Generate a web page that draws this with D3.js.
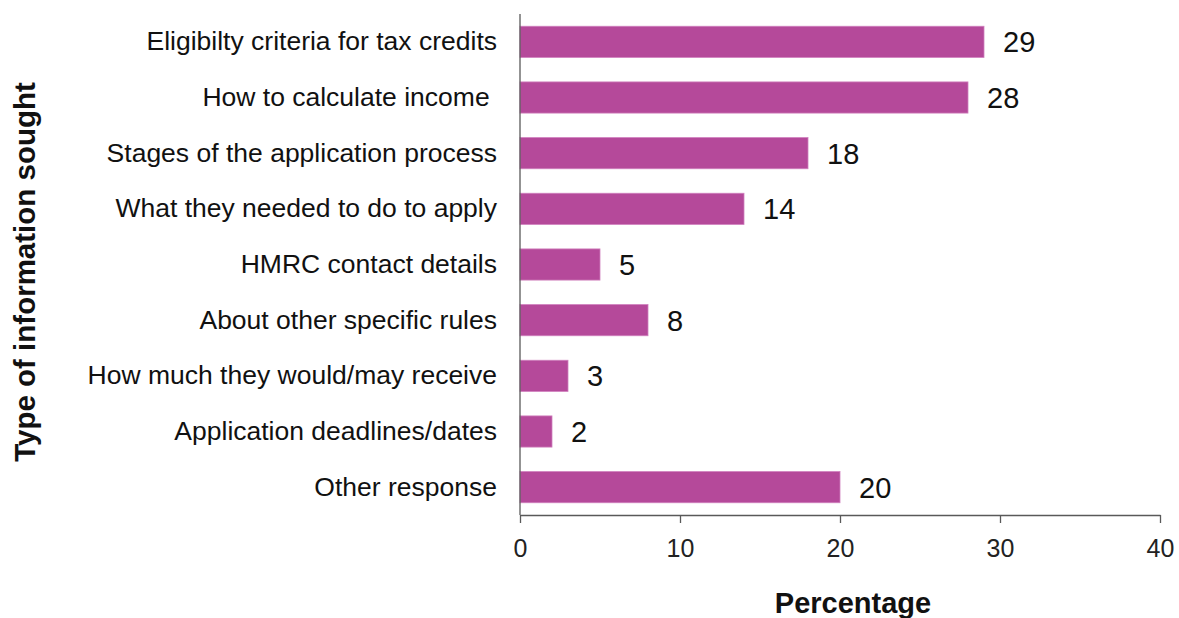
<!DOCTYPE html>
<html>
<head>
<meta charset="utf-8">
<script src="https://cdn.jsdelivr.net/npm/d3@7"></script>
<style>
  html, body { margin: 0; padding: 0; background: #fff; }
  svg { display: block; font-family: "Liberation Sans", Arial, sans-serif; }
</style>
</head>
<body>
<svg id="chart" width="1179" height="618"></svg>
<script>
// Survey responses: type of information sought
const categories = [
  "Eligibilty criteria for tax credits",
  "How to calculate income ",
  "Stages of the application process",
  "What they needed to do to apply",
  "HMRC contact details",
  "About other specific rules",
  "How much they would/may receive",
  "Application deadlines/dates",
  "Other response"
];
const percentages = [29, 28, 18, 14, 5, 8, 3, 2, 20];
const xTicks = [0, 10, 20, 30, 40];

const svg = d3.select("#chart");
const margin = { left: 520, right: 19, top: 14, bottom: 103 };
const width = 1179, height = 618;

const x = d3.scaleLinear().domain([0, 40]).range([margin.left, width - margin.right]);
const y = d3.scaleBand().domain(categories)
  .range([margin.top, height - margin.bottom])
  .paddingInner(0.44).paddingOuter(0.22);

const barColor = "#b5499a";
const axisColor = "#595959";
const font = "Liberation Sans, Arial, sans-serif";

// bars
svg.append("g").selectAll("rect")
  .data(categories)
  .join("rect")
  .attr("x", x(0))
  .attr("y", d => y(d))
  .attr("width", (d, i) => x(percentages[i]) - x(0))
  .attr("height", y.bandwidth())
  .attr("fill", barColor)
  .attr("stroke", "#d07fbd")
  .attr("stroke-width", 0.8);

// value labels
svg.append("g").selectAll("text")
  .data(categories)
  .join("text")
  .attr("x", (d, i) => x(percentages[i]) + 19)
  .attr("y", d => y(d) + y.bandwidth() / 2)
  .attr("dy", "0.36em")
  .attr("font-size", 29)
  .attr("fill", "#111")
  .text((d, i) => percentages[i]);

// x axis
const xAxis = svg.append("g")
  .attr("transform", `translate(0,${height - margin.bottom})`)
  .call(d3.axisBottom(x).tickValues(xTicks).tickSize(8).tickPadding(16).tickSizeOuter(0));
xAxis.select(".domain").attr("stroke", axisColor).attr("stroke-width", 1.3);
xAxis.selectAll(".tick line").attr("stroke", axisColor).attr("stroke-width", 1.3);
xAxis.selectAll(".tick text").attr("font-size", 25).attr("fill", "#222")
  .attr("font-family", font);

// y axis
const yAxis = svg.append("g")
  .attr("transform", `translate(${margin.left},0)`)
  .call(d3.axisLeft(y).tickSize(0).tickPadding(23));
yAxis.select(".domain").attr("stroke", axisColor).attr("stroke-width", 1.3)
  .attr("d", `M0,${margin.top}V${height - margin.bottom}`);
yAxis.selectAll(".tick text").attr("font-size", 26.5).attr("fill", "#111")
  .attr("font-family", font)
  .style("white-space", "pre");

// axis titles
svg.append("text")
  .attr("x", 853)
  .attr("y", 613)
  .attr("text-anchor", "middle")
  .attr("font-size", 29)
  .attr("font-weight", "bold")
  .attr("fill", "#111")
  .text("Percentage");

svg.append("text")
  .attr("transform", "translate(35,272) rotate(-90)")
  .attr("text-anchor", "middle")
  .attr("font-size", 29.5)
  .attr("font-weight", "bold")
  .attr("fill", "#111")
  .text("Type of information sought");
</script>
</body>
</html>
